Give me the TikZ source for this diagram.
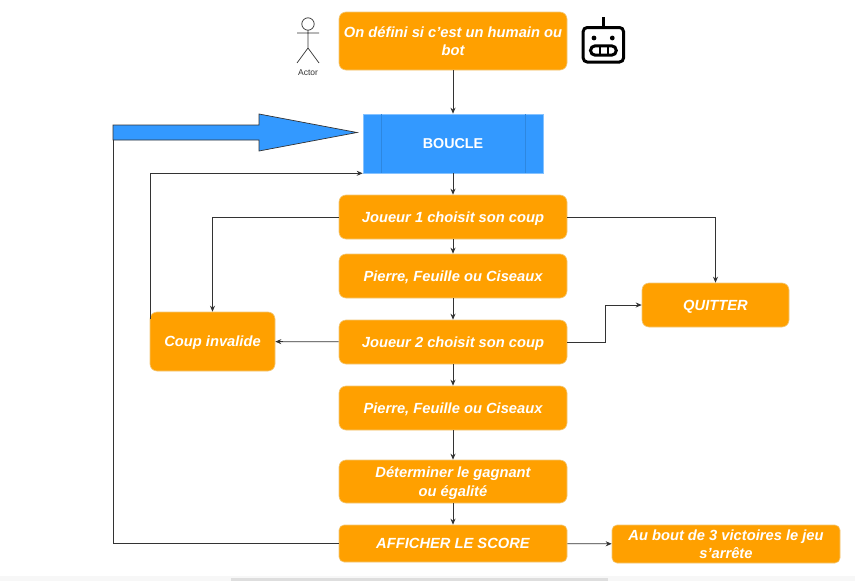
\documentclass[tikz,border=0pt]{standalone}
\usepackage{fontspec}
\setmainfont{Liberation Sans}
\usetikzlibrary{arrows.meta}
\definecolor{orangebox}{HTML}{FFA000}
\definecolor{orangeedge}{HTML}{F2C879}
\definecolor{bluebox}{HTML}{3399FF}
\definecolor{lineink}{HTML}{333333}
\tikzset{
  x=1pt,y=-1pt,
  orangenode/.style={draw=orangeedge,fill=orangebox,rounded corners=7pt,line width=0.6pt,inner sep=0pt,align=center,text=white,text depth=0pt,font=\bfseries\itshape\fontsize{14.7}{18.5}\selectfont},
  bluenode/.style={draw=white!40!bluebox,fill=bluebox,line width=0.6pt,inner sep=0pt,align=center,text=white,font=\bfseries\fontsize{14.3}{18}\selectfont,minimum width=180pt,minimum height=59pt},
  conn/.style={draw=lineink,line width=0.8pt,-{Stealth[length=6pt,width=5pt]}},
  plainconn/.style={draw=lineink,line width=0.8pt},
  actorline/.style={draw=lineink,line width=0.7pt},
  roboline/.style={draw=black,line width=3pt},
}
\begin{document}
\begin{tikzpicture}
\useasboundingbox (0,0) rectangle (855,581);
\fill[white] (0,0) rectangle (855,581);
% scrollbar
\fill[black!3] (0,576) rectangle (855,581);
\fill[black!13] (231,577.5) rectangle (608,581);
% nodes
\node[orangenode,minimum width=228pt,minimum height=58pt] (top) at (453,41) {On défini si c'est un humain ou\\bot};
\node[bluenode] (boucle) at (453,143.5) {BOUCLE};
\draw[draw=black!12!bluebox,line width=0.4pt] (381,114) -- (381,173) (525,114) -- (525,173);
\node[orangenode,minimum width=228pt,minimum height=44pt] (j1) at (453,217) {Joueur 1 choisit son coup};
\node[orangenode,minimum width=228pt,minimum height=44pt] (p1) at (453,276) {Pierre, Feuille ou Ciseaux};
\node[orangenode,minimum width=228pt,minimum height=44pt] (j2) at (453,342) {Joueur 2 choisit son coup};
\node[orangenode,minimum width=228pt,minimum height=44pt] (p2) at (453,408) {Pierre, Feuille ou Ciseaux};
\node[orangenode,minimum width=228pt,minimum height=43pt] (det) at (453,481.5) {Déterminer le gagnant\\ou égalité};
\node[orangenode,minimum width=228pt,minimum height=37pt,rounded corners=5pt] (aff) at (453,543.5) {AFFICHER LE SCORE};
\node[orangenode,minimum width=228pt,minimum height=38pt,rounded corners=5pt] (fin) at (726,544) {Au bout de 3 victoires le jeu\\s'arrête};
\node[orangenode,minimum width=147pt,minimum height=44pt] (quit) at (715.5,305) {QUITTER};
\node[orangenode,minimum width=125pt,minimum height=59pt] (inv) at (212.5,341.5) {Coup invalide};
% blue arrow
\coordinate (tailtl) at (113,125);
\coordinate (tailbl) at (113,140);
\draw[draw=lineink,fill=bluebox,line width=0.7pt,line join=miter] (tailtl) -- (259,125) -- (259,114) -- (357,132.5) -- (259,151) -- (259,140) -- (tailbl) -- cycle;
% connectors
\coordinate (invup) at (150,319);
\coordinate (elbow) at (605,305);
\draw[conn] (top) -- (boucle);
\draw[conn] (boucle) -- (j1);
\draw[conn] (j1) -- (p1);
\draw[conn] (p1) -- (j2);
\draw[conn] (j2) -- (p2);
\draw[conn] (p2) -- (det);
\draw[conn] (det) -- (aff);
\draw[conn] (aff) -- (fin);
\draw[conn] (j2) -- (inv);
\draw[conn] (j1.west) -| (inv.north);
\draw[conn] (j1.east) -| (quit.north);
\draw[conn] (j2.east) -| (elbow) -- (quit.west);
\draw[conn] (invup) |- (boucle.south west);
\draw[plainconn] (aff.west) -| (tailbl);
% actor
\coordinate (actorhead) at (308,24);
\draw[actorline] (actorhead) circle[radius=6.2];
\draw[actorline] (308,30.2) -- (308,48) (297,33) -- (319,33) (297,63) -- (308,48) -- (319,63);
\node[inner sep=0pt,text=lineink,font=\fontsize{8.5}{10}\selectfont] (actorlabel) at (308,72.5) {Actor};
% robot icon
\draw[roboline,rounded corners=4pt] (583.2,27.5) rectangle (623.5,62);
\draw[line width=2.8pt,draw=black] (603.3,17) -- (603.3,27);
\fill[black] (594,38) circle[radius=2.4] (612.3,38) circle[radius=2.4];
\draw[draw=black,line width=3pt,rounded corners=4.7pt] (590.5,45.8) rectangle (616.3,55.2);
\draw[draw=black,line width=2pt] (599.5,45.8) -- (599.5,55.2) (607.5,45.8) -- (607.5,55.2);
\end{tikzpicture}
\end{document}
